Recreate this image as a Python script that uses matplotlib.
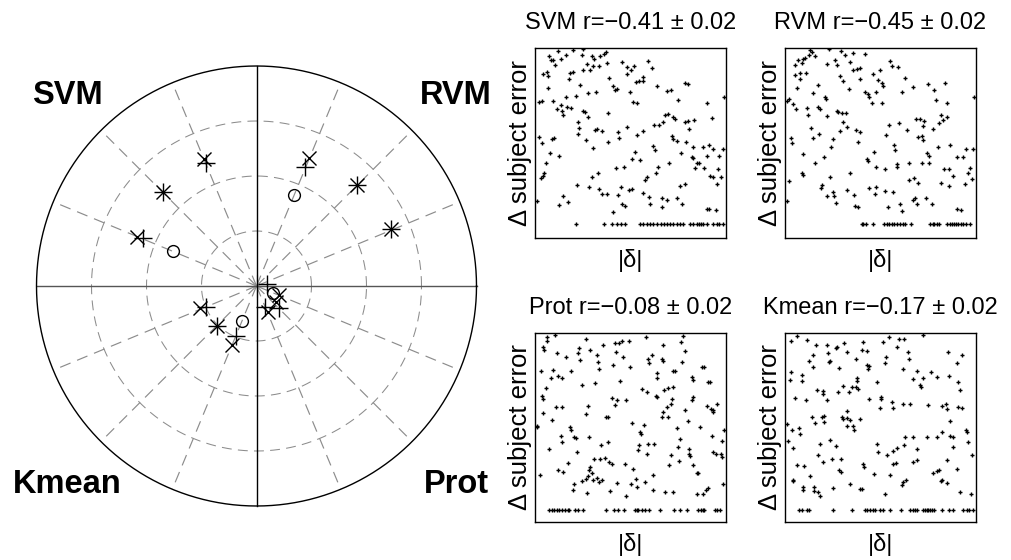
import numpy as np
import matplotlib
matplotlib.use("Agg")
import matplotlib.pyplot as plt

plt.rcParams['font.family'] = ['Liberation Sans', 'DejaVu Sans']

# ---------------------------------------------------------------
# Polar summary: positions on the unit disc, one set per method
# (x-marker, +-marker and circle-marker entries)
# ---------------------------------------------------------------
SVM_X = [(-0.239, 0.576), (-0.426, 0.426), (-0.545, 0.224)]
SVM_P = [(-0.230, 0.558), (-0.426, 0.426), (-0.515, 0.217)]
SVM_O = [(-0.378, 0.159)]

RVM_X = [(0.240, 0.580), (0.455, 0.459), (0.610, 0.258)]
RVM_P = [(0.220, 0.542), (0.455, 0.459), (0.610, 0.258)]
RVM_O = [(0.170, 0.414)]

KMEAN_X = [(-0.257, -0.101), (-0.181, -0.182), (-0.110, -0.268)]
KMEAN_P = [(-0.230, -0.094), (-0.181, -0.182), (-0.095, -0.227)]
KMEAN_O = [(-0.067, -0.158)]

PROT_X = [(0.102, -0.041), (0.089, -0.073), (0.052, -0.118)]
PROT_P = [(0.048, 0.009), (0.102, -0.100), (0.039, -0.095)]
PROT_O = [(0.075, -0.032)]

QUAD_LABELS = ["SVM", "RVM", "Kmean", "Prot"]
RING_RADII = [0.25, 0.5, 0.75]
SPOKE_STEP_DEG = 22.5

# ---------------------------------------------------------------
# Scatter panels: (|delta|, delta subject error) on a 0..573 x 0..568 scale
# ---------------------------------------------------------------
SVM_PTS = [(43,545),(70,558),(92,548),(115,563),(145,565),(47,531),(55,531),(78,535),(59,518),
    (140,548),(178,535),(170,545),(207,551),(213,555),(195,543),(157,521),(173,515),(193,515),
    (217,523),(260,525),(275,511),(298,515),(287,503),(339,528),(350,508),(25,491),(35,495),
    (38,485),(105,493),(113,496),(102,475),(145,501),(165,501),(223,478),(275,491),(135,458),
    (38,448),(233,453),(245,445),(240,443),(303,465),(313,468),(323,468),(325,481),(365,453),
    (395,438),(407,443),(450,463),(460,460),(160,433),(182,435),(93,423),(123,425),(285,435),
    (430,413),(567,423),(55,411),(13,408),(20,411),(77,398),(95,393),(107,388),(65,385),(80,381),
    (83,368),(145,381),(150,378),(160,363),(220,375),(295,408),(307,405),(515,403),(530,358),
    (390,368),(400,371),(415,361),(420,356),(451,348),(460,351),(477,353),(463,325),(357,338),
    (372,338),(385,348),(128,348),(132,330),(130,310),(185,325),(180,323),(200,321),(250,318),
    (277,333),(323,321),(307,308),(13,303),(22,283),(52,297),(57,298),(153,293),(173,268),
    (220,288),(253,298),(410,305),(415,295),(425,291),(453,288),(437,255),(473,273),(503,273),
    (523,278),(535,265),(563,265),(45,253),(73,245),(33,223),(17,178),(27,193),(23,185),
    (300,258),(290,235),(315,233),(355,275),(359,263),(370,213),(403,223),(470,243),(475,238),
    (485,225),(493,225),(480,208),(507,208),(517,245),(551,245),(550,205),(525,185),(535,181),
    (557,181),(545,161),(5,111),(125,158),(163,153),(170,183),(190,195),(193,145),(200,133),
    (215,131),(243,208),(267,213),(257,153),(250,128),(282,143),(292,145),(323,135),(330,173),
    (335,181),(363,195),(343,123),(345,101),(380,121),(395,115),(380,93),(425,121),(440,101),
    (435,156),(450,161),(515,88),(523,88),(543,83),(235,78),(260,103),(270,95),(85,125),
    (73,98),(100,108)]
SVM_FLOOR_X = [123,207,230,245,257,270,315,325,335,345,355,365,377,387,395,405,415,425,435,
    445,465,475,487,493,499,503,517,535,547,553,563]
SVM_FLOOR_Y = 43

RVM_PTS = [(75,561),(80,555),(73,548),(90,543),(132,565),(167,558),(180,548),(203,553),(240,551),
    (60,538),(55,535),(40,531),(30,518),(50,523),(127,521),(150,533),(157,518),(195,525),
    (215,505),(205,503),(225,508),(315,528),(322,515),(340,511),(30,488),(45,493),(45,475),
    (63,493),(35,448),(100,458),(165,483),(175,468),(193,446),(225,475),(263,491),(285,501),
    (280,471),(290,463),(295,453),(360,478),(383,451),(428,461),(448,443),(480,463),(352,435),
    (240,435),(248,431),(253,423),(273,435),(85,433),(120,421),(123,415),(260,405),(290,405),
    (567,421),(453,413),(485,403),(5,411),(13,415),(25,400),(33,386),(67,388),(100,393),
    (105,385),(70,368),(125,365),(157,381),(160,378),(170,375),(183,373),(175,348),(185,331),
    (165,320),(78,328),(102,311),(85,298),(213,323),(225,318),(143,295),(138,271),(117,243),
    (55,251),(90,225),(18,298),(22,283),(220,288),(312,338),(303,308),(343,345),(365,323),
    (392,355),(405,356),(417,351),(415,335),(445,325),(462,345),(467,368),(475,353),(485,361),
    (412,305),(415,293),(400,301),(460,273),(495,279),(515,243),(533,241),(543,265),(563,265),
    (327,278),(331,263),(267,258),(245,235),(250,231),(425,255),(433,245),(410,225),(433,225),
    (493,205),(477,205),(555,208),(550,193),(503,185),(560,175),(540,161),(469,165),(492,156),
    (273,213),(300,205),(335,221),(335,213),(373,223),(373,173),(387,178),(400,165),(195,193),
    (135,183),(110,158),(107,150),(127,125),(143,138),(147,125),(153,106),(187,143),(207,130),
    (210,95),(218,93),(253,148),(273,153),(270,133),(300,141),(325,138),(383,115),(390,121),
    (395,103),(423,121),(442,101),(345,101),(352,80),(310,93),(13,171),(53,188),(50,193),
    (5,111),(515,88),(527,83)]
RVM_FLOOR_X = [230,235,243,265,297,305,313,320,328,337,345,353,360,377,435,443,448,455,463,
    485,495,500,507,513,520,527,535,543,555]
RVM_FLOOR_Y = 43

PROT_PTS = [(35,555),(37,545),(60,563),(25,525),(28,517),(65,507),(93,497),(133,523),(130,507),
    (135,488),(153,550),(165,517),(187,503),(188,480),(193,460),(203,533),(235,473),(240,537),
    (243,510),(253,537),(260,545),(265,495),(283,545),(285,467),(332,555),(350,503),(343,477),
    (340,490),(383,533),(381,490),(385,483),(437,540),(440,480),(450,513),(445,558),(18,455),
    (53,457),(48,433),(70,440),(82,433),(108,453),(142,412),(180,417),(255,425),(365,447),
    (365,433),(415,453),(420,453),(470,435),(475,427),(500,465),(507,465),(520,422),(525,420),
    (20,380),(25,370),(33,403),(230,373),(247,368),(240,353),(273,367),(322,400),(335,390),
    (362,380),(367,375),(388,397),(398,403),(413,407),(412,370),(407,355),(395,345),(385,330),
    (380,317),(400,315),(450,337),(470,367),(475,377),(517,350),(527,340),(545,355),(533,337),
    (535,330),(23,327),(50,307),(63,345),(80,345),(160,350),(153,325),(213,315),(220,317),
    (290,297),(327,293),(315,270),(318,265),(105,285),(107,277),(78,258),(80,240),(118,255),
    (123,253),(43,220),(127,210),(163,255),(197,230),(220,240),(5,290),(7,285),(425,283),
    (435,250),(428,225),(460,305),(495,287),(530,258),(567,277),(560,242),(535,210),(543,205),
    (557,203),(463,220),(463,205),(465,198),(485,147),(195,190),(178,190),(210,193),(223,180),
    (230,175),(165,165),(163,155),(170,147),(160,137),(175,127),(185,133),(153,130),(140,123),
    (117,115),(113,97),(157,87),(193,120),(200,127),(225,93),(247,117),(273,77),(270,175),
    (295,160),(303,130),(308,215),(313,230),(340,235),(357,233),(335,203),(330,120),(355,140),
    (355,97),(390,90),(413,90),(403,170),(407,200),(433,183),(473,170),(488,147),(487,83),
    (503,85),(513,97),(520,103),(563,113),(15,140),(68,155),(85,150),(100,177),(287,113),
    (307,105),(560,195)]
PROT_FLOOR_X = [43,50,57,65,73,80,90,98,102,120,130,143,213,237,250,268,300,305,310,320,330,
    343,375,418,435,457,490,497,503,507,540,547,555]
PROT_FLOOR_Y = 37

KMEAN_PTS = [(17,543),(35,560),(67,547),(93,533),(125,533),(153,523),(157,527),(178,537),
    (185,510),(130,507),(135,485),(133,480),(83,503),(73,483),(83,467),(163,462),(213,490),
    (235,540),(230,517),(247,515),(253,470),(250,460),(247,473),(295,540),(303,497),(300,477),
    (313,555),(337,527),(342,550),(357,550),(353,460),(370,510),(372,490),(413,563),(490,510),
    (532,503),(517,477),(395,453),(383,430),(405,413),(407,405),(413,433),(437,450),(455,437),
    (493,440),(520,420),(525,397),(17,450),(15,427),(50,443),(50,425),(30,373),(63,367),
    (95,397),(115,393),(127,367),(113,385),(160,390),(173,410),(193,390),(200,405),(213,407),
    (217,433),(215,423),(220,400),(253,370),(275,420),(288,377),(287,370),(285,343),(320,360),
    (325,343),(353,355),(375,355),(430,353),(471,350),(483,355),(485,340),(495,303),(520,347),
    (530,343),(80,315),(90,297),(110,317),(117,320),(118,300),(170,317),(175,310),(187,335),
    (185,313),(195,307),(187,290),(203,290),(208,275),(225,310),(43,283),(45,265),(5,295),
    (8,243),(23,223),(105,233),(135,245),(153,227),(140,190),(100,200),(113,180),(167,190),
    (163,155),(168,150),(195,115),(225,100),(235,175),(238,165),(275,233),(278,210),(307,200),
    (325,213),(335,223),(323,173),(333,177),(360,255),(357,230),(385,255),(397,220),(385,180),
    (395,185),(425,255),(455,255),(470,270),(495,257),(503,255),(505,225),(543,275),(550,240),
    (560,200),(547,270),(443,147),(455,153),(463,157),(467,123),(470,127),(485,117),(485,187),
    (515,160),(525,90),(557,85),(25,127),(23,123),(35,170),(58,168),(75,137),(53,105),(53,95),
    (87,105),(87,93),(100,90),(105,77),(143,102),(230,100),(267,143),(300,83),(315,142),
    (350,110),(355,120),(363,127),(20,275)]
KMEAN_FLOOR_X = [43,50,65,73,145,200,240,247,255,263,270,285,295,315,347,375,383,390,395,415,
    420,425,430,435,440,447,470,493,505,535,545,553,565]
KMEAN_FLOOR_Y = 37

PANEL_TITLES = ["SVM r=\u22120.41 \u00b1 0.02", "RVM r=\u22120.45 \u00b1 0.02",
                "Prot r=\u22120.08 \u00b1 0.02", "Kmean r=\u22120.17 \u00b1 0.02"]
X_RANGE = (0, 573)
Y_RANGE = (0, 568)

W, H = 1011, 560
fig = plt.figure(figsize=(W / 100, H / 100), dpi=100)

# ---------------- polar summary ----------------
cx, cy, R = 256.5, 286.0, 220.0
half = 236.0
axp = fig.add_axes([(cx - half) / W, 1 - (cy + half) / H, 2 * half / W, 2 * half / H])
lim = half / R
axp.set_xlim(-lim, lim)
axp.set_ylim(-lim, lim)
axp.axis('off')

grid_col = '#8c8c8c'
dash = (0, (9.5, 6))
t = np.linspace(0, 2 * np.pi, 721)
for r in RING_RADII:
    axp.plot(r * np.cos(t), r * np.sin(t), color=grid_col, lw=0.75, ls=dash, zorder=1)
for ang in np.arange(0, 360, SPOKE_STEP_DEG):
    a = np.deg2rad(ang)
    # the axis directions get only the short central dash; solid lines cover the rest
    reach = 0.055 if ang % 90 == 0 else 1.0
    axp.plot([0, reach * np.cos(a)], [0, reach * np.sin(a)], color=grid_col, lw=0.85,
             ls=dash, zorder=1)
axp.plot([-1, 1], [0, 0], color='#555555', lw=1.0, zorder=2)
axp.plot([0, 0], [-1, 1], color='black', lw=1.0, zorder=2)
axp.plot(np.cos(t), np.sin(t), color='black', lw=1.0, zorder=2)

for xs, ps, os in [(SVM_X, SVM_P, SVM_O), (RVM_X, RVM_P, RVM_O),
                   (KMEAN_X, KMEAN_P, KMEAN_O), (PROT_X, PROT_P, PROT_O)]:
    xa = np.array(xs); pa = np.array(ps); oa = np.array(os)
    axp.plot(xa[:, 0], xa[:, 1], ls='none', marker='x', ms=10, mew=1.0, color='black', zorder=3)
    axp.plot(pa[:, 0], pa[:, 1], ls='none', marker='+', ms=13, mew=1.0, color='black', zorder=3)
    axp.plot(oa[:, 0], oa[:, 1], ls='none', marker='o', ms=8.5, mew=1.0, mfc='none',
             color='black', zorder=3)

label_pos = [(-0.86, 0.829), (0.905, 0.829), (-0.858, -0.94), (0.907, -0.94)]
for lab, (lx, ly) in zip(QUAD_LABELS, label_pos):
    axp.text(lx, ly, lab, ha='center', va='baseline', fontsize=23.5, fontweight='bold')

# ---------------- scatter panels ----------------
panels = [
    (SVM_PTS, SVM_FLOOR_X, SVM_FLOOR_Y, [535, 48, 191, 190]),
    (RVM_PTS, RVM_FLOOR_X, RVM_FLOOR_Y, [785, 48, 191, 190]),
    (PROT_PTS, PROT_FLOOR_X, PROT_FLOOR_Y, [535, 333, 191, 189]),
    (KMEAN_PTS, KMEAN_FLOOR_X, KMEAN_FLOOR_Y, [785, 333, 191, 189]),
]
for (pts, fx, fy, (px, py, pw, ph)), title in zip(panels, PANEL_TITLES):
    ax = fig.add_axes([px / W, 1 - (py + ph) / H, pw / W, ph / H])
    arr = np.array(pts)
    ax.plot(arr[:, 0], arr[:, 1], ls='none', marker='+', ms=3.4, mew=1.0, color='black')
    ax.plot(fx, [fy] * len(fx), ls='none', marker='+', ms=3.4, mew=1.0, color='black')
    ax.set_xlim(*X_RANGE)
    ax.set_ylim(*Y_RANGE)
    ax.set_xticks([])
    ax.set_yticks([])
    for s in ax.spines.values():
        s.set_linewidth(1.0)
    ax.set_title(title, fontsize=17, pad=14)
    ax.set_xlabel('|\u03b4|', fontsize=17, labelpad=8)
    ax.set_ylabel('\u0394 subject error', fontsize=18.5, labelpad=2)

fig.savefig('out.png', dpi=100)
